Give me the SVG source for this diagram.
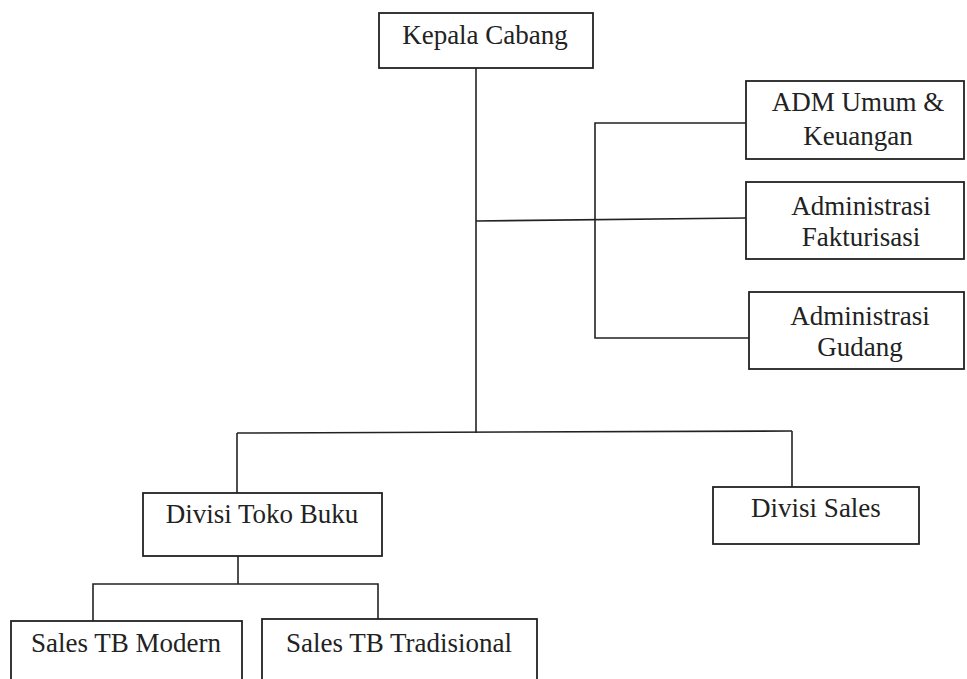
<svg xmlns="http://www.w3.org/2000/svg" width="967" height="679" viewBox="0 0 967 679">
<style>
.box{fill:#fff;stroke:#222;stroke-width:1.8}
.ln{fill:none;stroke:#222;stroke-width:1.6}
.t{font-size:27px;fill:#222;text-anchor:middle}
</style>
<rect width="967" height="679" fill="#fff"/>
<g id="connectors">
<line class="ln" x1="476" y1="68" x2="476" y2="433"/>
<line class="ln" x1="476" y1="221" x2="746" y2="218"/>
<polyline class="ln" points="746,123 595,123 595,338 749,338"/>
<line class="ln" x1="237" y1="433" x2="792" y2="431"/>
<line class="ln" x1="237" y1="433" x2="237" y2="493"/>
<line class="ln" x1="792" y1="431" x2="792" y2="487"/>
<line class="ln" x1="238" y1="556" x2="238" y2="584"/>
<polyline class="ln" points="93,621 93,584 378,584 378,619"/>
</g>
<g font-family="Liberation Serif, Times New Roman, serif">
<g id="kepala-cabang">
<rect class="box" x="379" y="13" width="214" height="55"/>
<text class="t" x="485" y="44">Kepala Cabang</text>
</g>
<g id="adm-umum">
<rect class="box" x="746" y="81" width="218" height="78"/>
<text class="t" x="858" y="111">ADM Umum &amp;</text>
<text class="t" x="858" y="145">Keuangan</text>
</g>
<g id="adm-fakturisasi">
<rect class="box" x="746" y="182" width="218" height="77"/>
<text class="t" x="861" y="215">Administrasi</text>
<text class="t" x="861" y="246">Fakturisasi</text>
</g>
<g id="adm-gudang">
<rect class="box" x="749" y="292" width="215" height="77"/>
<text class="t" x="860" y="325">Administrasi</text>
<text class="t" x="860" y="356">Gudang</text>
</g>
<g id="divisi-toko-buku">
<rect class="box" x="143" y="493" width="239" height="63"/>
<text class="t" x="262" y="523">Divisi Toko Buku</text>
</g>
<g id="divisi-sales">
<rect class="box" x="713" y="487" width="206" height="57"/>
<text class="t" x="816" y="517">Divisi Sales</text>
</g>
<g id="sales-tb-modern">
<rect class="box" x="11" y="621" width="231" height="70"/>
<text class="t" x="126" y="652">Sales TB Modern</text>
</g>
<g id="sales-tb-tradisional">
<rect class="box" x="262" y="619" width="275" height="70"/>
<text class="t" x="399" y="652">Sales TB Tradisional</text>
</g>
</g>
</svg>
